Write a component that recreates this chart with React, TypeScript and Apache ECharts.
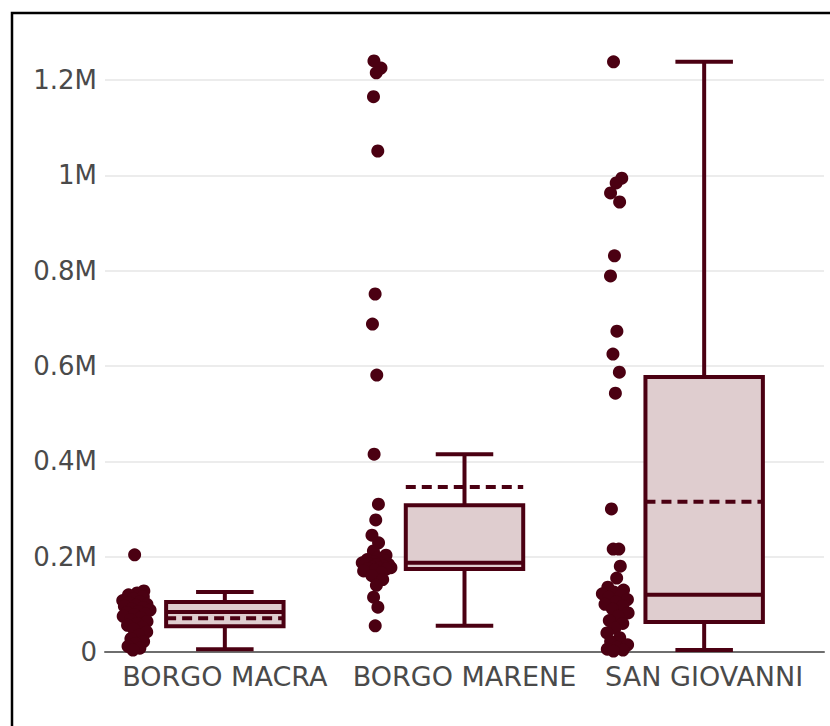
import React, { useEffect, useRef } from 'react';
import * as echarts from 'echarts';

const categories = ['BORGO MACRA', 'BORGO MARENE', 'SAN GIOVANNI'];

// individual observations (in thousands)
const borgoMacra = [204, 128, 124, 120, 116, 112, 108, 105, 103, 100, 98, 96, 93, 90, 88, 85, 83, 80, 78, 75, 72, 68, 64, 60, 56, 52, 48, 42, 35, 28, 22, 18, 12, 8, 4];
const borgoMarene = [1240, 1225, 1215, 1165, 1051, 751, 688, 581, 415, 310, 277, 245, 229, 212, 203, 198, 194, 191, 189, 187, 186, 185, 184, 183, 182, 180, 178, 177, 176, 175, 174, 172, 170, 166, 160, 152, 140, 115, 94, 55];
const sanGiovanni = [1238, 994, 984, 963, 944, 831, 789, 673, 625, 587, 543, 300, 216, 216, 180, 155, 136, 130, 126, 122, 118, 115, 110, 105, 100, 96, 90, 82, 75, 66, 60, 50, 40, 30, 22, 15, 10, 6, 4, 2];

// box statistics (in thousands)
const boxMin = [6, 55, 4];
const boxQ1 = [54, 174, 63];
const boxMedian = [84, 187, 120];
const boxQ3 = [105, 308, 577];
const boxMax = [126, 415, 1238];
const boxMean = [71, 346, 315];

const yTickLabels = ['0', '0.2M', '0.4M', '0.6M', '0.8M', '1M', '1.2M'];

const DARK = '#4b0012';
const FILL = '#dfcdcf';
const FONT = 'DejaVu Sans';

function jitter(values: number[]): number[] {
  const dens = values.map((v) => values.filter((w) => Math.abs(w - v) < 20).length);
  const maxD = Math.max(...dens);
  return values.map((_, i) => {
    const r = ((i * 0.618034 + 0.31) % 1) * 2 - 1;
    return r * 0.065 * Math.sqrt(dens[i] / maxD);
  });
}

export default function App() {
  const ref = useRef<HTMLDivElement>(null);
  useEffect(() => {
    if (!ref.current) return;
    const chart = echarts.init(ref.current, undefined, { renderer: 'svg' });
    const groups = [borgoMacra, borgoMarene, sanGiovanni];
    const points: number[][] = [];
    groups.forEach((vals, gi) => {
      const j = jitter(vals);
      vals.forEach((v, i) => points.push([gi + 0.5 - 0.37 + j[i], v * 1000]));
    });
    const boxData = categories.map((_, i) => [
      i,
      boxMin[i] * 1000,
      boxQ1[i] * 1000,
      boxMedian[i] * 1000,
      boxQ3[i] * 1000,
      boxMax[i] * 1000,
      boxMean[i] * 1000,
    ]);
    chart.setOption({
      animation: false,
      backgroundColor: '#fff',
      grid: { left: 105, right: 6, top: 32.3, bottom: 74, containLabel: false },
      xAxis: [
        {
          type: 'category',
          data: categories,
          axisTick: { show: false },
          axisLine: { show: true, lineStyle: { color: '#6e6e6e', width: 2 } },
          axisLabel: { color: '#4a4a4a', fontFamily: FONT, fontSize: 27, margin: 11, interval: 0 },
          splitLine: { show: false },
        },
        { type: 'value', min: 0, max: 3, show: false },
      ],
      yAxis: {
        type: 'value',
        min: 0,
        max: 1300000,
        interval: 100000,
        axisLine: { show: false },
        axisTick: { show: false },
        splitLine: { show: true, lineStyle: { color: ['#ececec', 'rgba(0,0,0,0)'], width: 2 } },
        axisLabel: {
          color: '#4a4a4a',
          fontFamily: FONT,
          fontSize: 26,
          margin: 8,
          formatter: (v: number) => {
            const k = v / 200000;
            return Math.abs(k - Math.round(k)) < 1e-6 ? yTickLabels[Math.round(k)] ?? '' : '';
          },
        },
      },
      series: [
        {
          type: 'custom',
          xAxisIndex: 0,
          yAxisIndex: 0,
          data: boxData,
          encode: { x: 0, y: [1, 2, 3, 4, 5, 6] },
          z: 2,
          renderItem: (params: any, api: any) => {
            const idx = api.value(0);
            const cw = api.size([1, 0])[0];
            const cx = api.coord([idx, api.value(3)])[0];
            const yy = (k: number) => api.coord([idx, api.value(k)])[1];
            const half = cw * 0.245;
            const cap = cw * 0.12;
            const yMin = yy(1), yQ1 = yy(2), yMed = yy(3), yQ3 = yy(4), yMax = yy(5), yMean = yy(6);
            const ls = { stroke: DARK, lineWidth: 4 };
            return {
              type: 'group',
              children: [
                { type: 'line', shape: { x1: cx, y1: yMax, x2: cx, y2: yQ3 }, style: ls },
                { type: 'line', shape: { x1: cx, y1: yQ1, x2: cx, y2: yMin }, style: ls },
                { type: 'line', shape: { x1: cx - cap, y1: yMax, x2: cx + cap, y2: yMax }, style: ls },
                { type: 'line', shape: { x1: cx - cap, y1: yMin, x2: cx + cap, y2: yMin }, style: ls },
                {
                  type: 'rect',
                  shape: { x: cx - half, y: yQ3, width: half * 2, height: yQ1 - yQ3 },
                  style: { fill: FILL, stroke: DARK, lineWidth: 4 },
                },
                { type: 'line', shape: { x1: cx - half, y1: yMed, x2: cx + half, y2: yMed }, style: ls },
                {
                  type: 'line',
                  shape: { x1: cx - half, y1: yMean, x2: cx + half, y2: yMean },
                  style: { stroke: DARK, lineWidth: 4, lineDash: [10, 6] },
                },
              ],
            };
          },
        },
        {
          type: 'scatter',
          xAxisIndex: 1,
          yAxisIndex: 0,
          data: points,
          symbolSize: 13,
          itemStyle: { color: DARK, opacity: 1 },
          z: 3,
        },
      ],
      graphic: [
        {
          type: 'rect',
          shape: { x: 12, y: 13, width: 900, height: 900 },
          style: { fill: 'none', stroke: '#000', lineWidth: 2.5 },
          z: 100,
        },
      ],
    });
    return () => chart.dispose();
  }, []);
  return (
    <div style={{ position: 'fixed', left: 0, top: 0, width: 830, height: 726, overflow: 'hidden', background: '#fff' }}>
      <div ref={ref} style={{ width: 830, height: 726 }} />
    </div>
  );
}
